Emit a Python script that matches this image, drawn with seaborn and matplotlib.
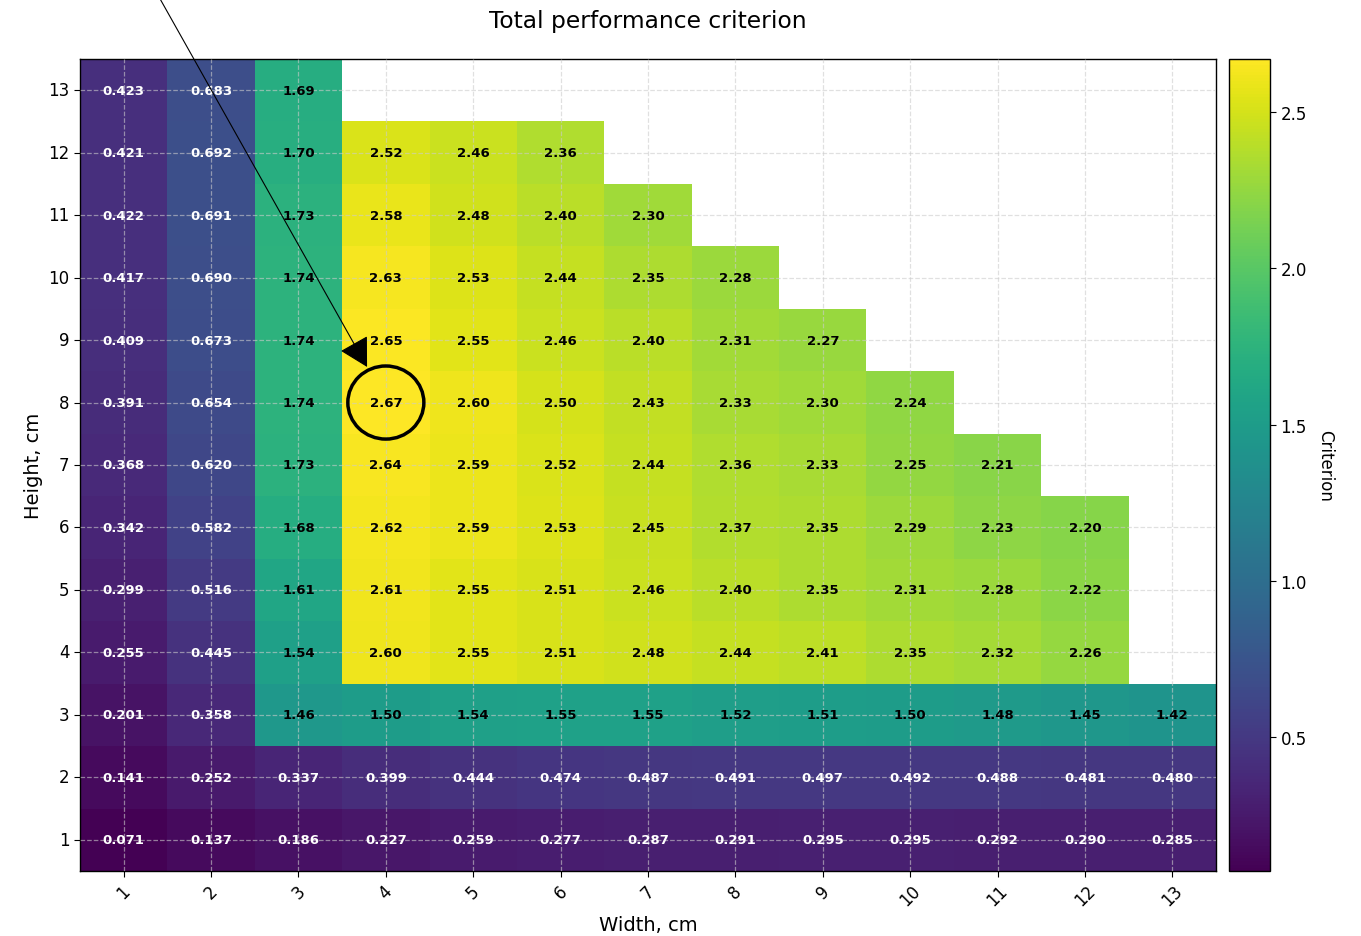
import numpy as np
import pandas as pd
import matplotlib
matplotlib.use("Agg")
import matplotlib.pyplot as plt
import seaborn as sns
from matplotlib.patches import Ellipse

nan = np.nan
widths = list(range(1, 14))
heights = list(range(13, 0, -1))  # top row first

row_13 = [0.423, 0.683, 1.69, nan, nan, nan, nan, nan, nan, nan, nan, nan, nan]
row_12 = [0.421, 0.692, 1.70, 2.52, 2.46, 2.36, nan, nan, nan, nan, nan, nan, nan]
row_11 = [0.422, 0.691, 1.73, 2.58, 2.48, 2.40, 2.30, nan, nan, nan, nan, nan, nan]
row_10 = [0.417, 0.690, 1.74, 2.63, 2.53, 2.44, 2.35, 2.28, nan, nan, nan, nan, nan]
row_9 = [0.409, 0.673, 1.74, 2.65, 2.55, 2.46, 2.40, 2.31, 2.27, nan, nan, nan, nan]
row_8 = [0.391, 0.654, 1.74, 2.67, 2.60, 2.50, 2.43, 2.33, 2.30, 2.24, nan, nan, nan]
row_7 = [0.368, 0.620, 1.73, 2.64, 2.59, 2.52, 2.44, 2.36, 2.33, 2.25, 2.21, nan, nan]
row_6 = [0.342, 0.582, 1.68, 2.62, 2.59, 2.53, 2.45, 2.37, 2.35, 2.29, 2.23, 2.20, nan]
row_5 = [0.299, 0.516, 1.61, 2.61, 2.55, 2.51, 2.46, 2.40, 2.35, 2.31, 2.28, 2.22, nan]
row_4 = [0.255, 0.445, 1.54, 2.60, 2.55, 2.51, 2.48, 2.44, 2.41, 2.35, 2.32, 2.26, nan]
row_3 = [0.201, 0.358, 1.46, 1.50, 1.54, 1.55, 1.55, 1.52, 1.51, 1.50, 1.48, 1.45, 1.42]
row_2 = [0.141, 0.252, 0.337, 0.399, 0.444, 0.474, 0.487, 0.491, 0.497, 0.492, 0.488, 0.481, 0.480]
row_1 = [0.071, 0.137, 0.186, 0.227, 0.259, 0.277, 0.287, 0.291, 0.295, 0.295, 0.292, 0.290, 0.285]

rows = [row_13, row_12, row_11, row_10, row_9, row_8, row_7,
        row_6, row_5, row_4, row_3, row_2, row_1]
df = pd.DataFrame(rows, index=heights, columns=widths)

best_width, best_height = 4, 8

fig = plt.figure(figsize=(13.61, 9.37), dpi=100)
W, H = 1361, 937
ax = fig.add_axes([80 / W, 1 - 872 / H, (1216 - 80) / W, (872 - 60) / H])
cax = fig.add_axes([1229 / W, 1 - 872 / H, 41 / W, (872 - 60) / H])

vmin = np.nanmin(df.values)
vmax = np.nanmax(df.values)
sns.heatmap(df, ax=ax, cbar_ax=cax, cmap="viridis", vmin=vmin, vmax=vmax,
            annot=False, cbar_kws={"label": ""})

# annotations
for i, h in enumerate(heights):
    for j, w in enumerate(widths):
        v = df.loc[h, w]
        if np.isnan(v):
            continue
        txt = f"{v:.3f}" if v < 1 else f"{v:.2f}"
        color = "white" if v < 1.0 else "black"
        ax.text(j + 0.5, i + 0.5, txt, ha="center", va="center",
                fontsize=9.5, fontweight="bold", color=color)

for s in ax.spines.values():
    s.set_visible(True)
    s.set_color("black")
    s.set_linewidth(1.0)

ax.grid(True, linestyle="--", color="#cccccc", alpha=0.6, linewidth=0.9)
ax.set_axisbelow(False)
ax.tick_params(axis="both", length=4, labelsize=12)
ax.set_xticklabels(widths, rotation=45)
ax.set_yticklabels(heights, rotation=0)
ax.set_xlabel("Width, cm", fontsize=14)
ax.set_ylabel("Height, cm", fontsize=14)
ax.set_title("Total performance criterion", fontsize=16.8, pad=23)

cb = ax.collections[0].colorbar
cb.outline.set_visible(True)
cb.outline.set_linewidth(1.0)
cb.outline.set_edgecolor("black")
cb.ax.tick_params(labelsize=12, length=4)
cb.set_label("Criterion", rotation=270, labelpad=20, fontsize=12)

# highlight best cell
bx = widths.index(best_width) + 0.5
by = heights.index(best_height) + 0.5
ax.add_patch(Ellipse((bx, by), width=0.87, height=1.17, fill=False,
                     edgecolor="black", linewidth=2.5, zorder=5))
ax.annotate("", xy=(bx - 0.215, by - 0.57), xytext=(bx - 2.82, by - 7.05),
            textcoords="data", xycoords="data", annotation_clip=False,
            arrowprops=dict(arrowstyle="-|>,head_length=0.45,head_width=0.25",
                            color="black", lw=0.8,
                            mutation_scale=40, shrinkA=0, shrinkB=0))

fig.savefig("out.png", dpi=100)
